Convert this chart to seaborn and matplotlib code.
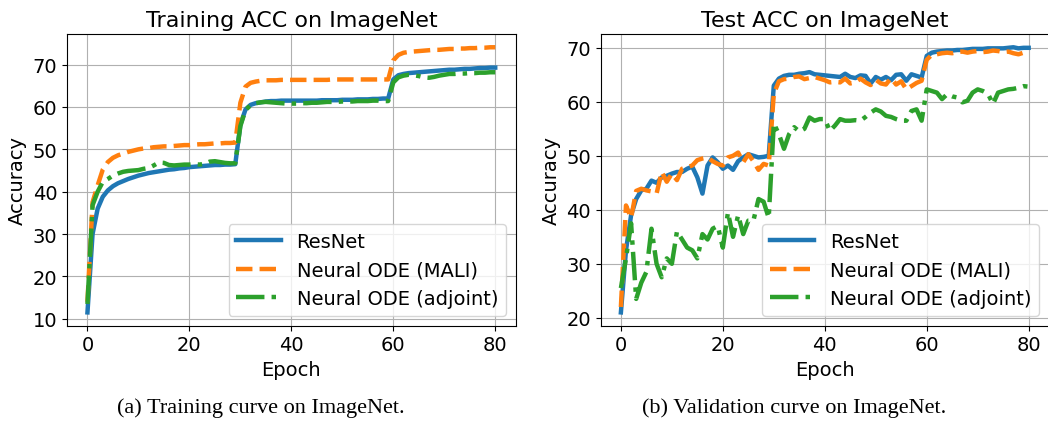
import numpy as np
import pandas as pd
import matplotlib
matplotlib.use("Agg")
import matplotlib.pyplot as plt
import seaborn as sns

epochs = list(range(81))

# training accuracy (%)
train_resnet = [11.5, 30, 36, 38.8, 40.3, 41.3, 42, 42.5, 43, 43.4,
                43.8, 44.1, 44.4, 44.6, 44.8, 45, 45.2, 45.3, 45.5, 45.6,
                45.8, 45.9, 46, 46.1, 46.2, 46.3, 46.3, 46.4, 46.4, 46.5,
                55.8, 59.4, 60.5, 60.9, 61.1, 61.3, 61.4, 61.4, 61.5, 61.5,
                61.5, 61.5, 61.5, 61.5, 61.5, 61.5, 61.6, 61.6, 61.6, 61.6,
                61.7, 61.7, 61.7, 61.8, 61.8, 61.8, 61.9, 61.9, 62, 62,
                66.5, 67.5, 67.8, 68, 68.1, 68.2, 68.3, 68.4, 68.5, 68.6,
                68.7, 68.8, 68.8, 68.9, 69, 69, 69.1, 69.2, 69.2, 69.3, 69.3]
train_mali = [14, 37.5, 41.5, 45.2, 47, 48, 48.6, 49, 49.4, 49.7,
              50, 50.2, 50.3, 50.5, 50.6, 50.7, 50.7, 50.8, 50.9, 51,
              51, 51.1, 51.2, 51.2, 51.3, 51.4, 51.4, 51.5, 51.5, 51.6,
              61, 64.8, 65.7, 66, 66.2, 66.3, 66.3, 66.3, 66.4, 66.4,
              66.4, 66.4, 66.4, 66.4, 66.4, 66.4, 66.4, 66.4, 66.5, 66.5,
              66.5, 66.5, 66.5, 66.5, 66.5, 66.5, 66.5, 66.5, 66.5, 66.5,
              71, 72.3, 72.8, 73, 73.1, 73.2, 73.3, 73.4, 73.5, 73.5,
              73.6, 73.7, 73.7, 73.8, 73.8, 73.9, 73.9, 74, 74, 74.1, 74.1]
train_adjoint = [13.5, 36.8, 40, 42.3, 43, 43.8, 44.3, 44.7, 44.9, 45,
                 45.1, 45.4, 45.6, 46.2, 46.9, 46.8, 46.3, 46.2, 46.3, 46.4,
                 46.4, 46.5, 46.4, 46.6, 47.1, 47.2, 47, 46.8, 46.7, 46.7,
                 55.5, 59.3, 60.4, 60.9, 61.1, 61.2, 61.1, 61, 60.9, 60.8,
                 60.8, 60.8, 60.9, 60.9, 61, 61, 61.1, 61.2, 61.2, 61.2,
                 61.3, 61.3, 61.3, 61.4, 61.4, 61.4, 61.5, 61.5, 61.4, 61.4,
                 65.8, 67, 67.4, 67.6, 67.5, 67.3, 67, 66.9, 67.1, 67.4,
                 67.6, 67.8, 67.8, 67.9, 67.9, 68, 68, 68.1, 68.1, 68.2, 68.2]

# test accuracy (%)
test_resnet = [21, 32.5, 39, 42, 43.6, 43.9, 45.4, 45, 46, 46.3,
               46.7, 47, 47, 47.6, 48, 46, 43, 48.2, 49.7, 48.8,
               47.6, 48.2, 47.4, 49, 49.7, 50.3, 50, 49.7, 49.8, 50,
               63, 64.3, 64.8, 65, 65, 65.2, 65.3, 65.5, 65.1, 65,
               64.9, 64.8, 64.7, 64.6, 65.2, 64.6, 64.4, 64.9, 64.8, 63.4,
               64.6, 64.1, 64.6, 64, 65, 65.1, 63.9, 65.1, 64.8, 64.5,
               68.5, 69.1, 69.3, 69.4, 69.5, 69.5, 69.6, 69.6, 69.7, 69.8,
               69.8, 69.8, 69.9, 69.9, 69.9, 69.9, 70, 70.1, 69.9, 70, 70]
test_mali = [22, 40.8, 38.5, 43.5, 43.9, 43.6, 43.4, 43, 47, 45.2,
             46.7, 45.5, 47.6, 47.9, 48.2, 49.2, 49.5, 49.7, 49, 48.5,
             48.2, 49.7, 50, 50.6, 48.8, 50.3, 49, 47.4, 48.5, 48.2,
             61.5, 63.8, 64.2, 64.3, 64.6, 64.7, 64.2, 64.4, 64.6, 64.3,
             64, 63.6, 63.7, 63.6, 64.3, 63.4, 63.6, 64.3, 63.6, 63.1,
             64.1, 63.4, 63.2, 64.4, 63.2, 63.8, 62.3, 62.9, 63.5, 63.9,
             67.8, 68.7, 68.8, 69, 69.1, 69, 69.2, 69.3, 69.1, 69.3,
             69.4, 69.2, 69.3, 69.5, 69.4, 69.2, 69.3, 69, 68.8, 69.1, 69.2]
test_adjoint = [25.5, 31, 37.5, 23.5, 26.5, 28.5, 36.5, 30, 27.5, 31,
                30, 36, 34.5, 33, 32.5, 31, 35.5, 34.5, 36.5, 37,
                33, 39.5, 35, 39, 35.5, 38, 38, 42, 41.5, 38.5,
                56, 54, 51.3, 54, 55.3, 54.5, 55, 57.1, 56.5, 56.8,
                56.8, 54.6, 55.6, 56.8, 56.5, 56.5, 56.6, 56.5, 57.2, 58,
                58.6, 58.2, 57.4, 57.2, 56.8, 56.5, 56.5, 58.3, 58.6, 56.5,
                62.3, 62, 61.7, 60.5, 61.4, 61, 60.8, 59.9, 60.2, 61.7,
                62.3, 62, 61.5, 59.6, 61.7, 62, 62.3, 62.4, 62.6, 62.9, 62.8]

labels = ["ResNet", "Neural ODE (MALI)", "Neural ODE (adjoint)"]
colors = ["#1f77b4", "#ff7f0e", "#2ca02c"]
styles = ["-", "--", "-."]

plt.rcParams["font.family"] = ["DejaVu Sans"]


def draw_panel(ax, series, title):
    for vals, lab, col, ls in zip(series, labels, colors, styles):
        sns.lineplot(x=epochs, y=vals, ax=ax, color=col, linestyle=ls,
                     linewidth=3.2, label=lab)
    ax.set_title(title, fontsize=16)
    ax.set_xlabel("Epoch", fontsize=14)
    ax.set_ylabel("Accuracy", fontsize=14)
    ax.tick_params(labelsize=14)
    ax.set_xticks([0, 20, 40, 60, 80])
    ax.grid(True, color="#b0b0b0", linewidth=0.8)
    ax.legend(loc="lower right", fontsize=14, handlelength=2.3)


fig = plt.figure(figsize=(10.48, 4.27), dpi=100)
ax1 = fig.add_axes([0.064, 0.235, 0.428, 0.683])
ax2 = fig.add_axes([0.573, 0.235, 0.428, 0.683])

draw_panel(ax1, [train_resnet, train_mali, train_adjoint], "Training ACC on ImageNet")
draw_panel(ax2, [test_resnet, test_mali, test_adjoint], "Test ACC on ImageNet")

fig.text(0.249, 0.032, "(a) Training curve on ImageNet.", ha="center",
         fontsize=16, family="Liberation Serif")
fig.text(0.758, 0.032, "(b) Validation curve on ImageNet.", ha="center",
         fontsize=16, family="Liberation Serif")

fig.savefig("out.png", dpi=100)
